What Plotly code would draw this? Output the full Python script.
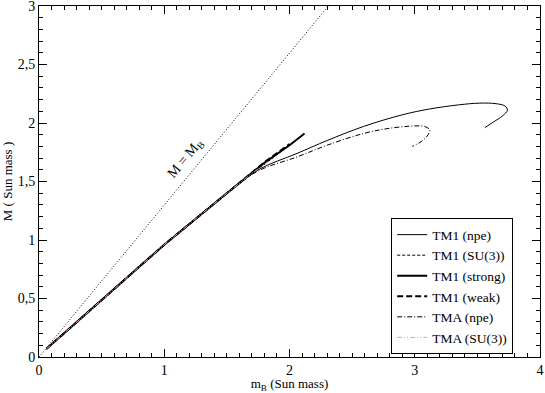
import plotly.graph_objects as go

# M = M_B reference line
ref_mb = [0.0, 2.31]
ref_m = [0.0, 3.0]

# TM1 (npe)
tm1_npe_mb = [0.06, 0.5, 1.0, 1.5, 1.75, 2.06, 2.3, 2.59, 2.9, 3.12, 3.35, 3.52, 3.65, 3.72, 3.74, 3.70, 3.63, 3.56]
tm1_npe_m = [0.07, 0.49, 0.96, 1.40, 1.60, 1.74, 1.85, 1.97, 2.07, 2.12, 2.155, 2.17, 2.165, 2.145, 2.11, 2.06, 2.01, 1.96]

# TM1 (SU(3))
tm1_su3_mb = [0.06, 0.5, 1.0, 1.5, 1.75, 1.95]
tm1_su3_m = [0.07, 0.49, 0.96, 1.40, 1.61, 1.77]

# TM1 (strong)
tm1_strong_mb = [0.06, 0.5, 1.0, 1.5, 1.8, 2.0, 2.12]
tm1_strong_m = [0.07, 0.49, 0.96, 1.40, 1.66, 1.81, 1.91]

# TM1 (weak)
tm1_weak_mb = [0.06, 0.5, 1.0, 1.5, 1.8, 2.0]
tm1_weak_m = [0.07, 0.49, 0.96, 1.40, 1.665, 1.82]

# TMA (npe)
tma_npe_mb = [0.06, 0.5, 1.0, 1.5, 1.75, 2.06, 2.3, 2.59, 2.8, 3.0, 3.08, 3.12, 3.10, 3.05, 2.98]
tma_npe_m = [0.07, 0.49, 0.96, 1.40, 1.59, 1.71, 1.81, 1.91, 1.955, 1.975, 1.97, 1.94, 1.89, 1.84, 1.80]

# TMA (SU(3))
tma_su3_mb = [0.06, 0.5, 1.0, 1.5, 1.7, 1.9]
tma_su3_m = [0.07, 0.49, 0.96, 1.40, 1.57, 1.72]

y_ticks = [0, 0.5, 1, 1.5, 2, 2.5, 3]
y_labels = ["0", "0,5", "1", "1,5", "2", "2,5", "3"]
x_ticks = [0, 1, 2, 3, 4]
x_labels = ["0", "1", "2", "3", "4"]

SERIF = "Liberation Serif, Times New Roman, serif"

fig = go.Figure()

fig.add_trace(go.Scatter(x=ref_mb, y=ref_m, mode="lines", showlegend=False,
                         line=dict(color="black", width=1, dash="1px,2px")))
fig.add_trace(go.Scatter(x=tm1_npe_mb, y=tm1_npe_m, mode="lines", name="TM1 (npe)",
                         line=dict(color="black", width=1, shape="spline")))
fig.add_trace(go.Scatter(x=tm1_su3_mb, y=tm1_su3_m, mode="lines", name="TM1 (SU(3))",
                         line=dict(color="black", width=1, dash="3px,2px")))
fig.add_trace(go.Scatter(x=tm1_strong_mb, y=tm1_strong_m, mode="lines", name="TM1 (strong)",
                         line=dict(color="black", width=2)))
fig.add_trace(go.Scatter(x=tm1_weak_mb, y=tm1_weak_m, mode="lines", name="TM1 (weak)",
                         line=dict(color="black", width=2, dash="6px,3px")))
fig.add_trace(go.Scatter(x=tma_npe_mb, y=tma_npe_m, mode="lines", name="TMA (npe)",
                         line=dict(color="black", width=1, dash="5px,2px,1px,2px", shape="spline")))
fig.add_trace(go.Scatter(x=tma_su3_mb, y=tma_su3_m, mode="lines", name="TMA (SU(3))",
                         line=dict(color="#e8a0a0", width=1, dash="5px,2px,1px,2px,1px,2px")))

fig.add_annotation(x=1.17, y=1.70, text="M = M<sub>B</sub>", showarrow=False,
                   textangle=-50, font=dict(family=SERIF, size=14, color="black"))

axis_common = dict(
    showgrid=False, zeroline=False, showline=True, linecolor="black", linewidth=1,
    mirror="allticks", ticks="inside", ticklen=8, tickcolor="black",
    tickfont=dict(family=SERIF, size=14, color="black"),
    ticklabeloverflow="allow",
)

fig.update_xaxes(range=[0, 4], tickvals=x_ticks, ticktext=x_labels,
                 minor=dict(dtick=0.1, ticks="inside", ticklen=4, tickcolor="black"),
                 title=dict(text="m<sub>B</sub> (Sun mass)", font=dict(family=SERIF, size=13, color="black"), standoff=0),
                 **axis_common)
fig.update_yaxes(range=[0, 3], tickvals=y_ticks, ticktext=y_labels,
                 minor=dict(dtick=0.1, ticks="inside", ticklen=4, tickcolor="black"),
                 title=dict(text="M ( Sun mass )", font=dict(family=SERIF, size=13, color="black"), standoff=4),
                 **axis_common)

fig.update_layout(
    width=545, height=393,
    margin=dict(l=39, r=5, t=6, b=36, autoexpand=False),
    plot_bgcolor="white", paper_bgcolor="white",
    font=dict(family=SERIF, color="black"),
    legend=dict(x=0.703, y=0.395, xanchor="left", yanchor="top",
                bordercolor="black", borderwidth=1, bgcolor="white",
                font=dict(family=SERIF, size=13.5, color="black"),
                tracegroupgap=0, itemwidth=30),
)

fig.write_html("out.html", config={"displayModeBar": False},
               post_script="document.body.style.margin='0';")
